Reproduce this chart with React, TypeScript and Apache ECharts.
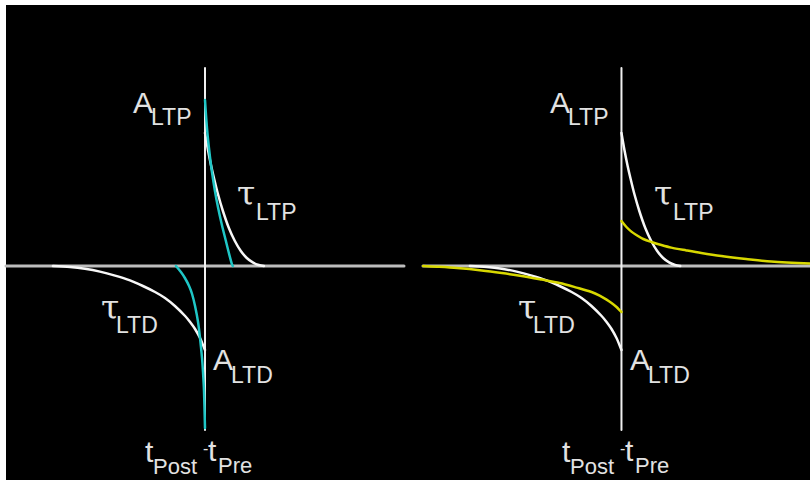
import React, { useEffect, useRef } from "react";
import * as echarts from "echarts";

// ---------- data (time difference units, weight-change units) ----------
const xRangeLeft = [-100, 100];
const xRangeRight = [-100, 95];
const yRange = [-82, 99];

const horizontalAxisLeft = [[-100, 0], [100, 0]];
const horizontalAxisRight = [[-100, 0], [95, 0]];
const verticalAxis = [[0, -82], [0, 99]];

// white reference STDP window (same in both panels)
const whiteLTP = [
  [0, 66.5], [1.5, 58], [3, 50.5], [4.5, 44], [6.5, 36], [9, 27.5], [12, 19],
  [15, 12.5], [18, 7.5], [21, 4], [24, 1.8], [27, 0.5], [29.6, 0],
];
const whiteLTD = [
  [-76.4, 0], [-67.8, -0.5], [-60.3, -1.4], [-52.8, -2.8], [-45.2, -4.8], [-37.7, -7.2],
  [-31.2, -10], [-25.1, -13], [-20.1, -16], [-15.1, -20], [-10, -25], [-7.5, -28],
  [-5, -31.5], [-2.5, -36], [-1, -39.5], [0, -42],
];

// left panel: larger amplitude, shorter time constant (cyan)
const cyanLTP = [
  [0, 83], [0.5, 75.5], [1, 69], [1.5, 63.5], [2.5, 54.5], [3.5, 47], [5, 37.5],
  [6.5, 29.5], [8.5, 20.5], [10.5, 12.5], [12, 6.5], [13.5, 1], [14, 0],
];
const cyanLTD = [
  [-14.6, 0], [-12.1, -3], [-10.1, -6], [-8, -10], [-6.5, -14], [-5, -20], [-3.5, -28],
  [-2.5, -36], [-1.5, -46], [-1, -53], [-0.5, -62.5], [0, -81],
];

// right panel: smaller amplitude, longer time constant (yellow)
const yellowLTP = [
  [0, 22.5], [2.5, 19.5], [5, 17.2], [7.5, 15.5], [11, 13.5], [15.1, 12], [20.1, 10.5],
  [25.1, 9.2], [32.7, 7.8], [40.2, 6.5], [50.3, 5], [62.8, 3.5], [75.4, 2.2], [95, 1.2],
];
const yellowLTD = [
  [-100, 0], [-93, -0.35], [-82.9, -1], [-70.4, -2.2], [-60.3, -3.5], [-50.3, -5],
  [-40.2, -6.8], [-31.2, -8.5], [-22.6, -10.8], [-15.1, -13], [-11, -14.8], [-7.5, -16.8],
  [-5, -18.5], [-2.5, -20.5], [-1, -22], [0, -23],
];

// label texts
const labelTexts = [
  ["A", "LTP"],
  ["τ", "LTP"],
  ["τ", "LTD"],
  ["A", "LTD"],
  ["t", "Post", "-", "t", "Pre"],
];

// ---------- layout / style ----------
const PANEL_OFFSET = 417;
const SANS = '"Liberation Sans", Arial, sans-serif';
const SERIF = '"DejaVu Serif", "Liberation Serif", serif';
const TEXT_COLOR = "#e2e2e2";

// [x, baseline, size, serif?] for each fragment of each label (left panel)
const labelLayout: number[][][] = [
  [[133, 113, 30, 0], [151, 125, 23, 0]],
  [[237, 205, 33, 1], [256, 220, 23, 0]],
  [[101, 319, 33, 1], [116, 333, 23, 0]],
  [[213, 370, 30, 0], [231, 383, 23, 0]],
  [[145, 462, 30, 0], [153, 474, 22, 0], [203, 454, 16, 0], [208, 461, 30, 0], [218, 473, 22, 0]],
];

function buildLabels() {
  const els: any[] = [];
  [0, PANEL_OFFSET].forEach((off) => {
    labelTexts.forEach((frags, i) => {
      frags.forEach((t, j) => {
        const [x, base, size, serif] = labelLayout[i][j];
        const k = serif ? 0.84 : 0.8465;
        els.push({
          type: "text",
          x: x + off,
          y: base - k * size,
          z: 10,
          style: {
            text: t,
            fill: TEXT_COLOR,
            fontSize: size,
            fontFamily: serif ? SERIF : SANS,
            align: "left",
            verticalAlign: "top",
          },
        });
      });
    });
  });
  return els;
}

function lineSeries(data: number[][], idx: number, color: string, width: number, smooth: boolean, z = 3) {
  return {
    type: "line",
    xAxisIndex: idx,
    yAxisIndex: idx,
    data,
    showSymbol: false,
    symbol: "none",
    smooth: smooth ? 0.3 : false,
    z,
    lineStyle: { color, width, cap: "round", join: "round" },
    silent: true,
  };
}

export default function App() {
  const ref = useRef<HTMLDivElement>(null);
  useEffect(() => {
    if (!ref.current) return;
    const chart = echarts.init(ref.current, undefined, { renderer: "svg" });
    chart.setOption({
      animation: false,
      backgroundColor: "#ffffff",
      grid: [
        { left: 6, width: 398, top: 68, height: 362 },
        { left: 423, width: 388, top: 68, height: 362 },
      ],
      xAxis: [
        { type: "value", gridIndex: 0, min: xRangeLeft[0], max: xRangeLeft[1], show: false },
        { type: "value", gridIndex: 1, min: xRangeRight[0], max: xRangeRight[1], show: false },
      ],
      yAxis: [
        { type: "value", gridIndex: 0, min: yRange[0], max: yRange[1], show: false },
        { type: "value", gridIndex: 1, min: yRange[0], max: yRange[1], show: false },
      ],
      graphic: [
        {
          type: "rect",
          z: -10,
          shape: { x: 6, y: 5, width: 804, height: 475 },
          style: { fill: "#000000" },
        },
        ...buildLabels(),
      ],
      series: [
        lineSeries(horizontalAxisLeft, 0, "#bdbdbd", 3, false, 2),
        lineSeries(verticalAxis, 0, "#f0f0f0", 2, false, 2),
        lineSeries(whiteLTP, 0, "#f7f7f7", 2.5, true),
        lineSeries(whiteLTD, 0, "#f7f7f7", 2.5, true),
        lineSeries(cyanLTP, 0, "#1fc6c6", 2.5, true, 4),
        lineSeries(cyanLTD, 0, "#1fc6c6", 2.5, true, 4),
        lineSeries(horizontalAxisRight, 1, "#bdbdbd", 3, false, 2),
        lineSeries(verticalAxis, 1, "#f0f0f0", 2, false, 2),
        lineSeries(whiteLTP, 1, "#f7f7f7", 2.5, true),
        lineSeries(whiteLTD, 1, "#f7f7f7", 2.5, true),
        lineSeries(yellowLTP, 1, "#d8d800", 2.5, true, 4),
        lineSeries(yellowLTD, 1, "#d8d800", 2.5, true, 4),
      ],
    });
    return () => chart.dispose();
  }, []);
  return (
    <div style={{ position: "fixed", left: 0, top: 0, width: 810, height: 480, background: "#fff" }}>
      <div ref={ref} style={{ width: 810, height: 480 }} />
    </div>
  );
}
